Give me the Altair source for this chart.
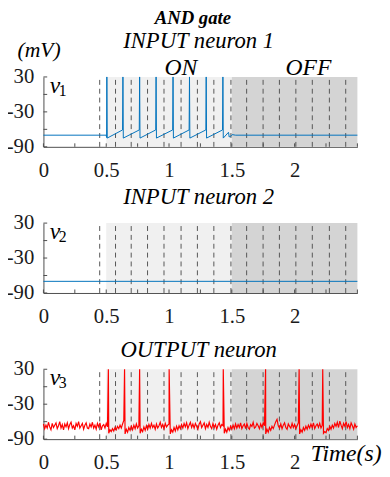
import altair as alt
import pandas as pd

# ---------------- data ----------------
T_DOMAIN = [0, 2.5]
V_DOMAIN = [-90, 30]

# stimulus windows (ON / OFF)
shade_start = [0.5, 1.5]
shade_end = [1.5, 2.5]
shade_fill = ["#f0f0f0", "#d4d4d4"]

# dashed vertical marker lines (s)
dash_times = [0.448, 0.574, 0.699, 0.829, 0.960, 1.096, 1.226, 1.357,
              1.493, 1.618, 1.749, 1.879, 2.010, 2.141, 2.277, 2.407]

x_tick_vals = [0, 0.25, 0.5, 0.75, 1.0, 1.25, 1.5, 1.75, 2.0, 2.25, 2.5]
x_label_vals = [0, 0.5, 1, 1.5, 2]
y_tick_vals = [30, 0, -30, -60, -90]
y_label_vals = [30, -30, -90]
y_label_text = ["30", "-30", "-90"]

# INPUT neuron 1 membrane potential (mV)
t1 = [0.000, 0.500, 0.503, 0.505, 0.508,
      0.630, 0.633, 0.636,
      0.763, 0.766, 0.769,
      0.894, 0.897, 0.900,
      1.029, 1.032, 1.035,
      1.160, 1.163, 1.166,
      1.293, 1.296, 1.299,
      1.426, 1.429, 1.432,
      1.474, 1.479, 1.497, 1.503, 1.530, 2.500]
v1 = [-70, -70, -74, 30, -75,
      -61, 30, -75,
      -61, 30, -75,
      -61, 30, -75,
      -61, 30, -75,
      -61, 30, -75,
      -61, 30, -75,
      -61, 30, -75,
      -65, -73, -71, -69, -70, -70]

# INPUT neuron 2 membrane potential (mV)
t2 = [0.0, 2.5]
v2 = [-70, -70]

# OUTPUT neuron: noisy trace sampled every 10 ms, plus spikes
v3_grid = [
    -64, -72, -66, -71, -61, -69, -74, -63, -70, -66,
    -62, -72, -67, -60, -71, -65, -74, -64, -69, -62,
    -72, -65, -61, -71, -67, -74, -63, -68, -60, -71,
    -67, -63, -73, -66, -62, -71, -72, -64, -69, -61,
    -71, -66, -73, -63, -69, -62, -74, -67, -65, -71,
    -63, -69, -80, -74, -77, -72, -76, -70, -74, -68,
    -72, -66, -71, -64, -58, -81, -73, -78, -70, -75,
    -68, -74, -66, -72, -64, -71, -67, -80, -73, -77,
    -69, -75, -67, -73, -65, -71, -63, -70, -66, -73,
    -64, -71, -67, -61, -70, -65, -72, -63, -69, -66,
    -64, -81, -74, -78, -70, -76, -68, -74, -67, -72,
    -65, -71, -63, -69, -62, -72, -66, -61, -70, -64,
    -71, -63, -68, -73, -64, -60, -70, -66, -62, -72,
    -65, -70, -61, -68, -72, -63, -70, -65, -73, -66,
    -62, -70, -65, -67, -80, -73, -78, -70, -75, -68,
    -73, -66, -72, -64, -71, -65, -70, -62, -72, -67,
    -64, -72, -63, -70, -73, -65, -68, -61, -71, -69,
    -63, -67, -72, -64, -70, -62, -67, -81, -73, -78,
    -70, -75, -68, -72, -66, -60, -56, -67, -71, -64,
    -72, -66, -62, -70, -73, -64, -68, -71, -63, -70,
    -65, -72, -67, -62, -81, -74, -78, -70, -75, -68,
    -73, -66, -71, -64, -70, -62, -72, -67, -64, -70,
    -63, -71, -66, -80, -77, -79, -72, -75, -68, -73,
    -66, -71, -63, -68, -61, -70, -59, -66, -72, -63,
    -68, -60, -70, -65, -72, -62, -67, -73, -64, -70, -67,
]
spike_t3 = [0.517, 0.646, 0.766, 1.001, 1.432, 1.769, 2.036, 2.224]
spike_peak3 = [30, 30, 30, 30, 30, 30, 30, 30]

# text annotations (time, mV)
titles = ["INPUT neuron 1", "INPUT neuron 2", "OUTPUT neuron"]
title_v = [79.0, 62.0, 51.5]
TITLE_T = 1.236
YLAB_T = -0.073

# ---------------- tables ----------------
shade_df = pd.DataFrame({"t": shade_start, "t2": shade_end, "fill": shade_fill,
                         "v": [V_DOMAIN[1]] * 2, "v2": [V_DOMAIN[0]] * 2})
dash_df = pd.DataFrame({"t": dash_times})
xt_df = pd.DataFrame({"t": x_tick_vals})
yt_df = pd.DataFrame({"v": y_tick_vals})
yl_df = pd.DataFrame({"t": [YLAB_T] * 3, "v": y_label_vals, "s": y_label_text})

df1 = pd.DataFrame({"t": t1, "v": v1})
df2 = pd.DataFrame({"t": t2, "v": v2})
rows = [(round(i * 0.01, 3), val) for i, val in enumerate(v3_grid)]
for ts, pk in zip(spike_t3, spike_peak3):
    rows.append((ts, pk))
df3 = pd.DataFrame(rows, columns=["t", "v"]).sort_values("t")

SERIF = "Liberation Serif"
XS = alt.Scale(domain=T_DOMAIN, nice=False, zero=False)
YS = alt.Scale(domain=V_DOMAIN, nice=False, zero=False)
XAX = alt.Axis(values=x_label_vals, title=None, grid=False, ticks=False, tickSize=0,
               labelPadding=13, labelFlush=False, labelOverlap=False,
               labelExpr="toString(datum.value)")
YAX = alt.Axis(values=y_label_vals, title=None, grid=False, ticks=False, tickSize=0,
               labels=False)


def X(field="t"):
    return alt.X(f"{field}:Q", scale=XS, axis=XAX)


def Y(field="v"):
    return alt.Y(f"{field}:Q", scale=YS, axis=YAX)


def text_layer(t, v, s, size, style="italic", weight="normal", align="center", dy=0):
    return alt.Chart(pd.DataFrame({"t": [t], "v": [v], "s": [s]})).mark_text(
        font=SERIF, fontStyle=style, fontWeight=weight, fontSize=size, align=align,
        baseline="alphabetic", dy=dy, color="#000").encode(x=X(), y=Y(), text="s:N")


def panel(df, color, idx, extra=None, width=1):
    shade = alt.Chart(shade_df).mark_rect().encode(
        x=X(), x2="t2", y=Y(), y2="v2", color=alt.Color("fill:N", scale=None))
    dashes = alt.Chart(dash_df).mark_rule(strokeDash=[5, 4], color="#555555", strokeWidth=1).encode(
        x=X(), y=alt.datum(V_DOMAIN[0]), y2=alt.datum(V_DOMAIN[1]))
    xt = alt.Chart(xt_df).mark_rule(color="#4d4d4d").encode(
        x=X(), y=alt.datum(-90), y2=alt.datum(-84))
    yt = alt.Chart(yt_df).mark_rule(color="#4d4d4d").encode(
        y=Y(), x=alt.datum(0), x2=alt.datum(0.03))
    ylab = alt.Chart(yl_df).mark_text(
        font=SERIF, fontSize=21, align="right", baseline="middle", color="#1a1a1a").encode(
        x=X(), y=Y(), text="s:N")
    line = alt.Chart(df).mark_line(color=color, strokeWidth=width, interpolate="linear").encode(
        x=X(), y=Y(), order="t:Q")
    lab_v = text_layer(0.05, 3, "v", 24, align="left")
    lab_sub = text_layer(0.122, -3, str(idx + 1), 16, style="normal", align="left")
    ttl = text_layer(TITLE_T, title_v[idx], titles[idx], 23)
    layers = [shade, dashes, xt, yt, ylab, line, lab_v, lab_sub, ttl]
    if extra:
        layers += extra
    return alt.layer(*layers).properties(width=319, height=71)


top_extra = [
    text_layer(1.19, 120.4, "AND gate", 19, weight="bold"),
    text_layer(1.095, 30, "ON", 24, dy=-2),
    text_layer(2.11, 30, "OFF", 24, dy=-2),
    text_layer(-0.034, 64.6, "(mV)", 22),
]
bottom_extra = [text_layer(2.41, -127, "Time(s)", 24)]

p1 = panel(df1, "#0072BD", 0, top_extra)
p2 = panel(df2, "#0072BD", 1)
p3 = panel(df3, "#ff0000", 2, bottom_extra, width=1.2)

chart = alt.vconcat(p1, p2, p3, spacing=77.5, bounds="flush").properties(
    padding={"left": -2, "top": -2.7, "right": 0, "bottom": 0},
).configure_view(stroke=None).configure_axis(
    labelFont=SERIF, labelFontSize=21, labelColor="#1a1a1a",
    domainColor="#4d4d4d", domainWidth=1,
)

chart.save("out.html", embed_options={"renderer": "svg", "actions": False})
